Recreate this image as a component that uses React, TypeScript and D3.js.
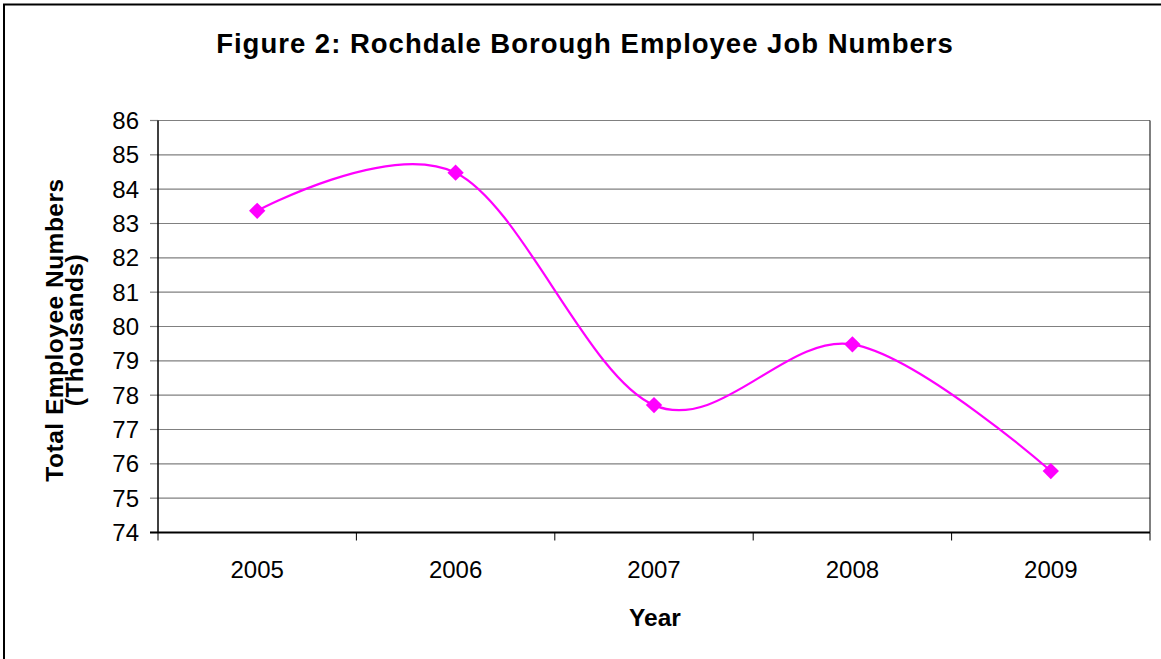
import React from "react";
import * as d3 from "d3";

const years = ["2005", "2006", "2007", "2008", "2009"];
const values = [83.37, 84.48, 77.71, 79.48, 75.79];
const yTicks = [74, 75, 76, 77, 78, 79, 80, 81, 82, 83, 84, 85, 86];

const W = 1161;
const H = 659;
const plot = { left: 158, right: 1150, top: 120.5, bottom: 532.5 };
const FONT = "'Liberation Sans', Arial, sans-serif";

export default function App() {
  const x = d3.scaleBand<string>().domain(years).range([plot.left, plot.right]).padding(0);
  const y = d3.scaleLinear().domain([74, 86]).range([plot.bottom, plot.top]);
  const cx = (d: string) => (x(d) as number) + x.bandwidth() / 2;
  const pts: [number, number][] = years.map((d, i) => [cx(d), y(values[i])]);
  const line = d3.line().curve(d3.curveCardinal.tension(0))(pts) as string;
  const diamond = d3.symbol().type(d3.symbolDiamond2).size(170)() as string;
  const boundaries = [...years.map((d) => x(d) as number), plot.right];

  return (
    <svg width={W} height={H} style={{ position: "absolute", left: 0, top: 0, background: "#fff" }}>
      <rect x={0} y={0} width={W} height={H} fill="#fff" />
      <path d={`M4,${H + 5}V4.5H${W + 5}`} fill="none" stroke="#000" strokeWidth={2} />
      <text x={585} y={53} textAnchor="middle" fontFamily={FONT} fontWeight="bold" fontSize={27.5} letterSpacing={1} fill="#000">
        Figure 2: Rochdale Borough Employee Job Numbers
      </text>
      {yTicks.map((t) => (
        <g key={t}>
          {t !== 74 && (
            <line x1={plot.left} x2={plot.right} y1={y(t)} y2={y(t)} stroke="#808080" strokeWidth={1.2} />
          )}
          <line x1={plot.left - 8} x2={plot.left} y1={y(t)} y2={y(t)} stroke="#808080" strokeWidth={1.2} />
          <text x={139} y={y(t)} dy="0.35em" textAnchor="end" fontFamily={FONT} fontSize={24} fill="#000">
            {t}
          </text>
        </g>
      ))}
      <line x1={plot.right} x2={plot.right} y1={plot.top} y2={plot.bottom} stroke="#000" strokeWidth={1} />
      <line x1={plot.left} x2={plot.left} y1={plot.top} y2={plot.bottom} stroke="#000" strokeWidth={1.5} />
      <line x1={plot.left - 8} x2={plot.right} y1={plot.bottom} y2={plot.bottom} stroke="#000" strokeWidth={2} />
      {boundaries.map((b, i) => (
        <line key={i} x1={b} x2={b} y1={plot.bottom} y2={plot.bottom + 8} stroke="#000" strokeWidth={1} />
      ))}
      {years.map((d) => (
        <text key={d} x={cx(d)} y={570} dy="0.35em" textAnchor="middle" fontFamily={FONT} fontSize={24} fill="#000">
          {d}
        </text>
      ))}
      <text x={655} y={617} dy="0.35em" textAnchor="middle" fontFamily={FONT} fontWeight="bold" fontSize={24.5} fill="#000">
        Year
      </text>
      <g transform="translate(0,330) rotate(-90)">
        <text x={0} y={63} textAnchor="middle" fontFamily={FONT} fontWeight="bold" fontSize={24.5} letterSpacing={0.5} fill="#000">
          Total Employee Numbers
        </text>
        <text x={0} y={83} textAnchor="middle" fontFamily={FONT} fontWeight="bold" fontSize={24.5} letterSpacing={0.5} fill="#000">
          (Thousands)
        </text>
      </g>
      <path d={line} fill="none" stroke="#FF00FF" strokeWidth={2.2} />
      {pts.map((p, i) => (
        <path key={i} d={diamond} transform={`translate(${p[0]},${p[1]})`} fill="#FF00FF" />
      ))}
    </svg>
  );
}
